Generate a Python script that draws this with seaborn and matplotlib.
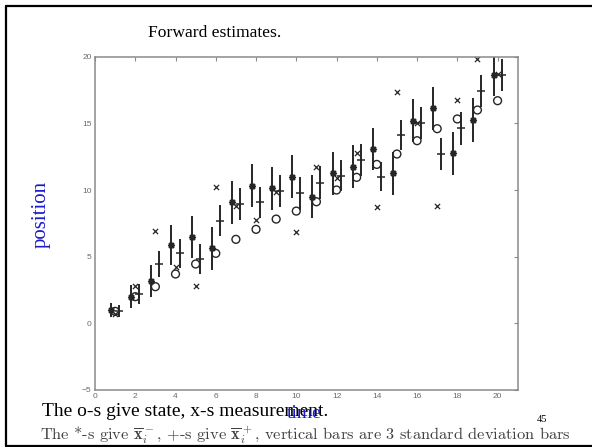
import numpy as np
import pandas as pd
import matplotlib
matplotlib.use("Agg")
import matplotlib.pyplot as plt
from matplotlib.lines import Line2D
import seaborn as sns

# Kalman filter run: prior (*), posterior (+), true state (o), measurement (x)
time_steps = list(range(1, 21))
true_state = [0.9, 2.0, 2.75, 3.7, 4.45, 5.25, 6.3, 7.05, 7.82, 8.42,
              9.12, 10.0, 10.95, 11.92, 12.7, 13.7, 14.6, 15.33, 16.0, 16.7]
measurement = [0.7, 2.8, 6.92, 4.2, 2.8, 10.25, 8.8, 7.75, 9.87, 6.87,
               11.7, 10.92, 12.8, 8.75, 17.33, 15.0, 8.82, 16.75, 19.83, 18.7]
prior_mean = [1.0, 2.0, 3.2, 5.87, 6.45, 5.62, 9.07, 10.32, 10.12, 11.0,
              9.5, 11.25, 11.75, 13.07, 11.25, 15.2, 16.12, 12.75, 15.25, 18.62]
prior_halfbar = [0.5, 0.85, 1.2, 1.47, 1.58, 1.6, 1.6, 1.6, 1.6, 1.6,
                 1.6, 1.6, 1.6, 1.6, 1.62, 1.6, 1.6, 1.62, 1.62, 1.6]
posterior_mean = [0.92, 2.17, 4.45, 5.25, 4.8, 7.7, 8.95, 9.07, 9.95, 9.75,
                  10.55, 11.07, 12.25, 11.0, 14.12, 15.05, 12.7, 14.62, 17.42, 18.62]
posterior_halfbar = [0.45, 0.75, 1.0, 1.1, 1.12, 1.17, 1.2, 1.17, 1.2, 1.22,
                     1.22, 1.18, 1.17, 1.1, 1.15, 1.2, 1.2, 1.22, 1.2, 1.2]

x_ticks = [0, 2, 4, 6, 8, 10, 12, 14, 16, 18, 20]
y_ticks = [-5, 0, 5, 10, 15, 20]

df = pd.DataFrame({
    "k": time_steps,
    "state": true_state,
    "meas": measurement,
    "prior": prior_mean,
    "prior_hb": prior_halfbar,
    "post": posterior_mean,
    "post_hb": posterior_halfbar,
})
df["k_prior"] = df["k"] - 0.2
df["k_post"] = df["k"] + 0.2

sns.set_style("white")
plt.rcParams["font.family"] = ["Liberation Serif", "DejaVu Serif"]
plt.rcParams["mathtext.fontset"] = "cm"

fig = plt.figure(figsize=(5.92, 4.47), dpi=100)
fig.patch.set_facecolor("white")

W, H = 592, 447
ax = fig.add_axes([95 / W, 1 - 390 / H, (517.7 - 95) / W, (390 - 56.7) / H])

ink = "#262626"
# 3-sigma bars
ax.vlines(df["k_prior"], df["prior"] - df["prior_hb"], df["prior"] + df["prior_hb"],
          color=ink, lw=1.4)
ax.vlines(df["k_post"], df["post"] - df["post_hb"], df["post"] + df["post_hb"],
          color=ink, lw=1.4)

sns.scatterplot(data=df, x="k_prior", y="prior", ax=ax, marker=(8, 2, 0),
                s=16, color=ink, linewidth=1.2, legend=False)
sns.scatterplot(data=df, x="k_post", y="post", ax=ax, marker="_",
                s=40, color=ink, linewidth=1.1, legend=False)
sns.scatterplot(data=df, x="k", y="state", ax=ax, marker="o",
                s=32, facecolor="none", edgecolor=ink, linewidth=1.0, legend=False)
sns.scatterplot(data=df, x="k", y="meas", ax=ax, marker="x",
                s=14, color=ink, linewidth=0.9, legend=False)

ax.set_xlim(0, 21)
ax.set_ylim(-5, 20)
ax.set_xticks(x_ticks)
ax.set_yticks(y_ticks)
ax.set_xlabel("")
ax.set_ylabel("")
for sp in ax.spines.values():
    sp.set_visible(True)
    sp.set_color("#8a8a8a")
    sp.set_linewidth(1.1)
ax.tick_params(direction="in", length=3, width=0.8, color="#8a8a8a",
               top=True, right=True, labelsize=6, labelcolor="#6a6a6a", pad=2.5)
for lab in ax.get_xticklabels() + ax.get_yticklabels():
    lab.set_family(["Liberation Sans", "DejaVu Sans"])

# slide texts
fig.text(215 / W, 1 - 33 / H, "Forward estimates.", ha="center", va="center",
         fontsize=12.6, color="black")
fig.text(41 / W, 1 - 214 / H, "position", ha="center", va="center", rotation=90,
         fontsize=15, color="#1a1acc")
fig.text(42 / W, 1 - 411 / H, "The o-s give state, x-s measurement.", ha="left",
         va="center", fontsize=14, color="black")
fig.text(304 / W, 1 - 414 / H, "time", ha="center", va="center",
         fontsize=14, color="#1a1acc")
fig.text(542 / W, 1 - 420 / H, "45", ha="center", va="center",
         fontsize=7.5, color="black")
fig.text(40 / W, 1 - 435.5 / H,
         r"The *-s give $\overline{\mathbf{x}}_i^-$, +-s give $\overline{\mathbf{x}}_i^+$, vertical bars are 3 standard deviation bars",
         ha="left", va="center", fontsize=11.8, color="#404040", family="cmr10")

# slide frame
frame = dict(color="black", lw=1.6, transform=fig.transFigure, clip_on=False)
fig.add_artist(Line2D([6 / W, 6 / W], [1 - 6 / H, 1 - 445.5 / H], **frame))
fig.add_artist(Line2D([6 / W, 1.0], [1 - 6 / H, 1 - 6 / H], **frame))
fig.add_artist(Line2D([6 / W, 1.0], [1 - 445.5 / H, 1 - 445.5 / H], **frame))

fig.savefig("out.png", dpi=100)
